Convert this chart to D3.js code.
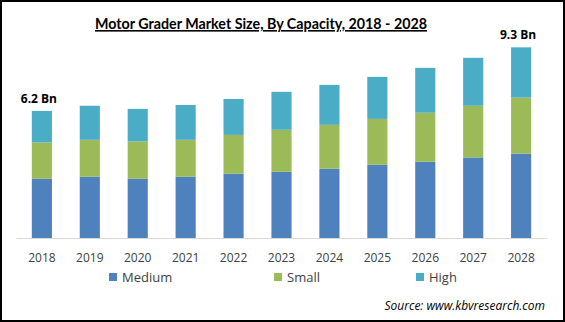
<!doctype html>
<html>
<head>
    <style>
        body { margin: 0; background: #fff; }
        text { font-family: "Open Sans", sans-serif; fill: #404040; }
        .title { font-family: Lato, sans-serif; font-weight: bold; fill: #000; text-decoration: underline; }
        .total { font-weight: bold; fill: #000; }
    </style>
    <script src="https://cdnjs.cloudflare.com/ajax/libs/d3/7.8.5/d3.min.js"></script>
</head>
<body>
<svg width="565" height="322"></svg>
<script>

    // market size in Bn, split by capacity
    var years = ["2018", "2019", "2020", "2021", "2022", "2023", "2024", "2025", "2026", "2027", "2028"];
    var medium = [2.89, 2.99, 2.89, 2.99, 3.13, 3.23, 3.38, 3.57, 3.72, 3.93, 4.12];
    var small  = [1.77, 1.80, 1.82, 1.80, 1.90, 2.05, 2.14, 2.24, 2.39, 2.52, 2.73];
    var high   = [1.54, 1.66, 1.59, 1.70, 1.75, 1.85, 1.95, 2.05, 2.19, 2.34, 2.45];
    var seriesNames = ["Medium", "Small", "High"];
    var totalLabels = {"2018": "6.2 Bn", "2028": "9.3 Bn"};

    var colors = {"Medium": "#4f81bd", "Small": "#9bbb59", "High": "#4bacc6"};

    var svg = d3.select("svg");

    // outer frame
    svg.append("rect")
       .attr("x", 1).attr("y", 1)
       .attr("width", 563).attr("height", 320)
       .attr("fill", "none")
       .attr("stroke", "#000")
       .attr("stroke-width", 2);

    svg.append("text")
       .attr("class", "title")
       .attr("x", 261)
       .attr("y", 29)
       .attr("text-anchor", "middle")
       .attr("font-size", "16px")
       .attr("textLength", 332)
       .attr("lengthAdjust", "spacingAndGlyphs")
       .text("Motor Grader Market Size, By Capacity, 2018 - 2028");

    var x = d3.scaleBand().domain(years).range([16, 547]).paddingInner(0.58).paddingOuter(0.33),
        y = d3.scaleLinear().domain([0, 10]).range([238, 33]);

    var data = years.map(function(yr, i) {
        return {year: yr, Medium: medium[i], Small: small[i], High: high[i]};
    });

    var stack = d3.stack().keys(seriesNames)(data);

    svg.append("g")
       .selectAll("g")
       .data(stack)
       .enter().append("g")
       .attr("fill", function(s) { return colors[s.key]; })
       .selectAll("rect")
       .data(function(s) { return s; })
       .enter().append("rect")
       .attr("x", function(d) { return x(d.data.year); })
       .attr("y", function(d) { return y(d[1]); })
       .attr("width", x.bandwidth())
       .attr("height", function(d) { return y(d[0]) - y(d[1]); });

    var xAxis = svg.append("g")
       .attr("transform", "translate(0,238)")
       .call(d3.axisBottom(x).tickSize(0).tickPadding(15));
    xAxis.select(".domain").attr("stroke", "#d9d9d9");
    xAxis.selectAll("text")
         .attr("font-family", "'Open Sans', sans-serif")
         .attr("font-size", "12px")
         .attr("fill", "#404040");

    // total labels on first and last bar
    svg.selectAll(".total")
       .data(data.filter(function(d) { return totalLabels[d.year]; }))
       .enter().append("text")
       .attr("class", "total")
       .attr("x", function(d) { return x(d.year) + x.bandwidth() / 2 - 3; })
       .attr("y", function(d) { return y(d.Medium + d.Small + d.High) - 8; })
       .attr("text-anchor", "middle")
       .attr("font-size", "12px")
       .text(function(d) { return totalLabels[d.year]; });

    // legend
    var legendX = [109, 274, 416];
    var legend = svg.selectAll(".legend")
       .data(seriesNames)
       .enter().append("g")
       .attr("class", "legend")
       .attr("transform", function(d, i) { return "translate(" + legendX[i] + ",273)"; });
    legend.append("rect")
          .attr("width", 8).attr("height", 8)
          .attr("fill", function(d) { return colors[d]; });
    legend.append("text")
          .attr("x", 13)
          .attr("y", 8.5)
          .attr("font-size", "13px")
          .text(function(d) { return d; });

    svg.append("text")
       .attr("x", 545)
       .attr("y", 310)
       .attr("text-anchor", "end")
       .attr("font-size", "12px")
       .attr("font-style", "italic")
       .style("fill", "#000")
       .text("Source:  www.kbvresearch.com");

</script>
</body>
</html>
